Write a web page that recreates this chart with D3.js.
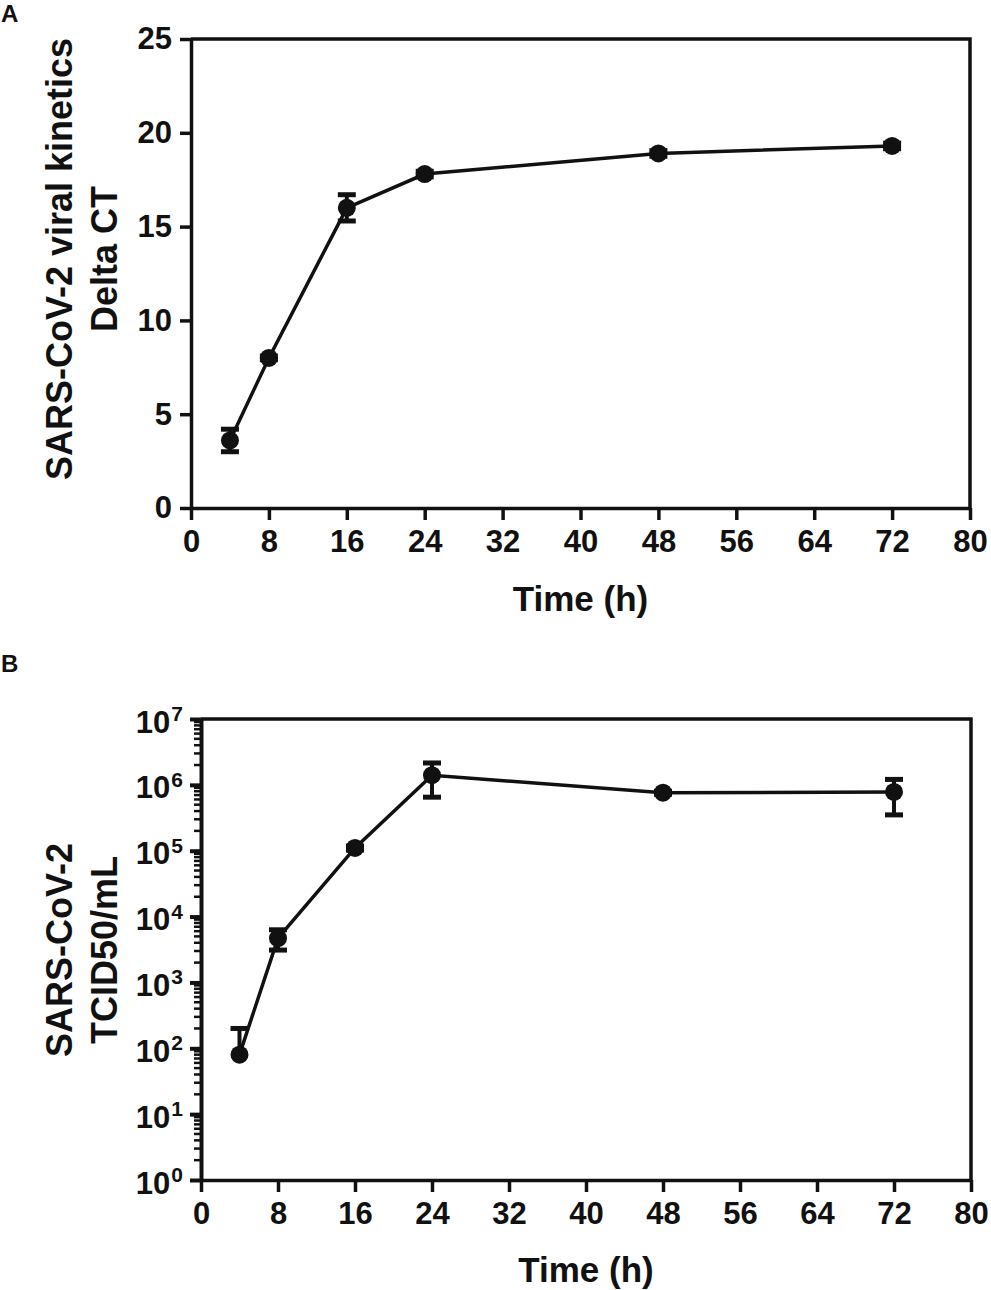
<!DOCTYPE html>
<html>
<head>
<meta charset="utf-8">
<script src="https://cdn.jsdelivr.net/npm/d3@7"></script>
<style>
  body { margin: 0; background: #fff; }
  text { font-family: 'Liberation Sans', Arial, sans-serif; font-weight: bold; fill: #111; }
</style>
</head>
<body>
<div id="chart"></div>
<script>
// time points (h)
const hours = [4, 8, 16, 24, 48, 72];
// panel A: delta CT mean and SD
const deltaCt = [3.6, 8.0, 16.0, 17.8, 18.9, 19.3];
const deltaCtSd = [0.6, 0.1, 0.7, 0.15, 0.15, 0.15];
// panel B: TCID50/mL mean and SD
const tcid50 = [80, 4700, 110000, 1400000, 760000, 780000];
const tcid50Sd = [120, 1600, 8000, 750000, 40000, 430000];
const xTicks = [0, 8, 16, 24, 32, 40, 48, 56, 64, 72, 80];
const yTicksA = [0, 5, 10, 15, 20, 25];
const yTicksB = [1, 10, 100, 1e3, 1e4, 1e5, 1e6, 1e7];

const width = 991, height = 1290;
const ink = '#111';

const svg = d3.select('#chart')
  .append('svg')
  .attr('width', width)
  .attr('height', height);

function styleAxis(g, w) {
  g.select('.domain').attr('stroke', ink).attr('stroke-width', w);
  g.selectAll('.tick line').attr('stroke', ink).attr('stroke-width', w);
  g.selectAll('.tick text').attr('fill', ink).attr('font-size', '31px')
    .attr('font-family', "'Liberation Sans', Arial, sans-serif").attr('font-weight', 'bold');
}

function drawPanel(opts) {
  const { left, right, top, bottom, y, values, sd, letter, letterY, titles, titleY, xTitleY } = opts;
  const x = d3.scaleLinear().domain([0, 80]).range([left, right]);
  const g = svg.append('g');

  // frame (top and right)
  g.append('path')
    .attr('d', `M${left},${top}H${right}V${bottom}`)
    .attr('fill', 'none')
    .attr('stroke', ink)
    .attr('stroke-width', 3.5);

  // x axis
  g.append('g')
    .attr('transform', `translate(0,${bottom})`)
    .call(d3.axisBottom(x).tickValues(xTicks).tickSize(12).tickSizeOuter(0).tickPadding(10))
    .call((a) => styleAxis(a, 3.5));

  // y axis
  const yAxis = g.append('g')
    .attr('transform', `translate(${left},0)`)
    .call(opts.yAxis)
    .call((a) => styleAxis(a, opts.yAxisWidth));
  if (opts.afterY) opts.afterY(yAxis);

  // error bars
  const capW = 9;
  const errs = g.append('g').attr('stroke', ink);
  values.forEach((v, i) => {
    const cx = x(hours[i]);
    const hi = v + sd[i];
    const lo = v - sd[i];
    const yHi = y(hi);
    const yLo = lo > 0 || !opts.log ? y(lo) : y(v);
    errs.append('line').attr('x1', cx).attr('x2', cx).attr('y1', yHi).attr('y2', yLo).attr('stroke-width', 4);
    errs.append('line').attr('x1', cx - capW).attr('x2', cx + capW).attr('y1', yHi).attr('y2', yHi).attr('stroke-width', 5);
    if (lo > 0 || !opts.log) {
      errs.append('line').attr('x1', cx - capW).attr('x2', cx + capW).attr('y1', yLo).attr('y2', yLo).attr('stroke-width', 5);
    }
  });

  // line
  const line = d3.line().x((d, i) => x(hours[i])).y((d) => y(d));
  g.append('path')
    .datum(values)
    .attr('d', line)
    .attr('fill', 'none')
    .attr('stroke', ink)
    .attr('stroke-width', 3.5);

  // markers
  g.append('g')
    .selectAll('circle')
    .data(values)
    .join('circle')
    .attr('cx', (d, i) => x(hours[i]))
    .attr('cy', (d) => y(d))
    .attr('r', 9)
    .attr('fill', ink);

  // panel letter
  g.append('text').attr('x', 1).attr('y', letterY).attr('font-size', '24px').text(letter);

  // x title
  g.append('text')
    .attr('x', (left + right) / 2)
    .attr('y', xTitleY)
    .attr('text-anchor', 'middle')
    .attr('font-size', '35px')
    .text('Time (h)');

  // y title (two lines)
  titles.forEach((t, i) => {
    g.append('text')
      .attr('transform', `translate(${72 + i * 45},${titleY}) rotate(-90)`)
      .attr('text-anchor', 'middle')
      .attr('font-size', '36px')
      .text(t);
  });
}

// panel A
const yA = d3.scaleLinear().domain([0, 25]).range([508, 39]);
drawPanel({
  left: 191, right: 970, top: 39, bottom: 508,
  y: yA, values: deltaCt, sd: deltaCtSd, log: false,
  yAxis: d3.axisLeft(yA).tickValues(yTicksA).tickSize(11).tickSizeOuter(0).tickPadding(8),
  yAxisWidth: 3.5,
  letter: 'A', letterY: 22,
  titles: ['SARS-CoV-2 viral kinetics', 'Delta CT'], titleY: 259,
  xTitleY: 611,
});

// panel B
const yB = d3.scaleLog().domain([1, 1e7]).range([1180, 719]);
drawPanel({
  left: 201, right: 971, top: 719, bottom: 1180,
  y: yB, values: tcid50, sd: tcid50Sd, log: true,
  yAxis: d3.axisLeft(yB).tickValues(yTicksB).tickFormat(() => '10').tickSize(11).tickSizeOuter(0).tickPadding(7),
  yAxisWidth: 4,
  afterY: (a) => {
    // exponents as superscripts
    a.selectAll('.tick text').attr('dy', '0.42em');
    a.selectAll('.tick text')
      .append('tspan')
      .attr('dy', '-0.55em')
      .attr('dx', '1')
      .attr('font-size', '21px')
      .text((d) => Math.round(Math.log10(d)));
    // minor ticks
    const minor = [];
    for (let e = 0; e < 7; e++) {
      for (let m = 2; m <= 9; m++) minor.push(m * Math.pow(10, e));
    }
    a.selectAll('.minor')
      .data(minor)
      .join('line')
      .attr('class', 'minor')
      .attr('x1', -7)
      .attr('x2', 0)
      .attr('y1', (d) => yB(d))
      .attr('y2', (d) => yB(d))
      .attr('stroke', ink)
      .attr('stroke-width', 2.5);
  },
  letter: 'B', letterY: 672,
  titles: ['SARS-CoV-2', 'TCID50/mL'], titleY: 950,
  xTitleY: 1282,
});
</script>
</body>
</html>
